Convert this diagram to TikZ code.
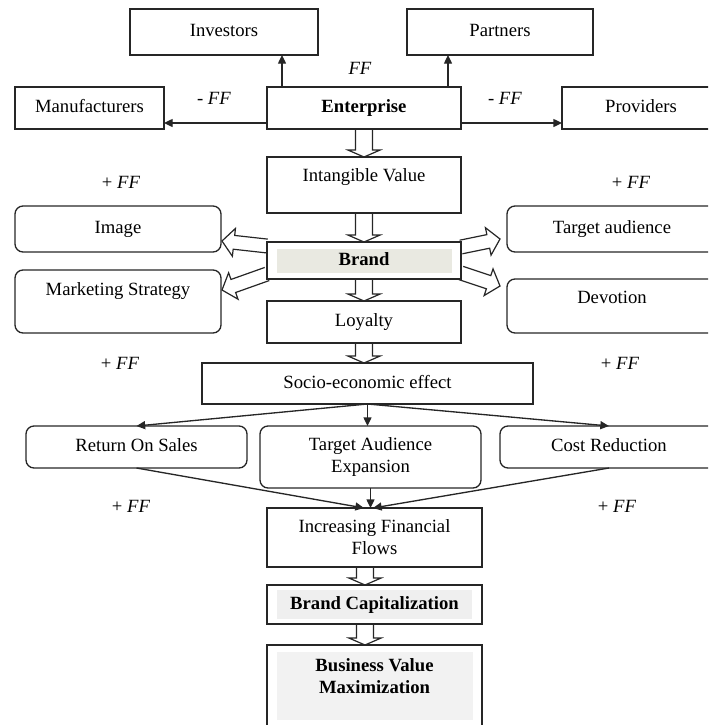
\documentclass[tikz,border=0pt]{standalone}
\usepackage{fontspec}
\setmainfont{Liberation Serif}
\usetikzlibrary{calc,arrows.meta,backgrounds}
\newcommand\pbox[7]{\node[#6, minimum width={(#4-#2)*0.75pt}, minimum height={(#5-#3)*0.75pt}] (#1) at ({(#2+#4)/2},{(#3+#5)/2}) {#7};}
\newcommand\hollow[5]{%
  \path (#1) coordinate (hA) (#2) coordinate (hB);
  \path ($(hB)!#5!(hA)$) coordinate (hH);
  \filldraw[hol] ($(hA)!#3!90:(hB)$) -- ($(hH)!#3!90:(hB)$) -- ($(hH)!#4!90:(hB)$) -- (hB)
    -- ($(hH)!#4!-90:(hB)$) -- ($(hH)!#3!-90:(hB)$) -- ($(hA)!#3!-90:(hB)$);}
\definecolor{brandshade}{RGB}{233,233,225}
\definecolor{capshade}{RGB}{239,239,239}
\definecolor{bvshade}{RGB}{242,242,242}
\begin{document}
\begin{tikzpicture}[x=0.75pt,y=-0.75pt,
  every node/.style={font=\fontsize{14}{16.5}\selectfont},
  bx/.style={draw=black!85, line width=1pt, inner sep=0pt, outer sep=0pt, align=center},
  sl/.style={text height=10pt, text depth=3pt},
  rbx/.style={bx, rounded corners=6pt},
  arr/.style={draw=black!85, line width=1pt, -{Triangle[length=6.5pt,width=6pt]}},
  hol/.style={draw=black!85, line width=0.9pt, fill=white, line join=miter},
  lbl/.style={inner sep=0pt}]
\clip (0,0) rectangle (708,725);
% boxes
\pbox{inv}{130}{9}{318}{55}{bx,sl}{Investors}
\pbox{par}{407}{9}{593}{55}{bx,sl}{Partners}
\pbox{manu}{15}{87}{164}{129}{bx,sl}{Manufacturers}
\pbox{ent}{267}{87}{461}{129}{bx,sl}{\textbf{Enterprise}}
\pbox{prov}{562}{87}{720}{129}{bx,sl}{Providers}
\pbox{intv}{267}{157}{461}{213}{bx,sl,text depth=15pt}{Intangible Value}
\pbox{img}{15}{206}{221}{252}{rbx,sl}{Image}
\pbox{tga}{507}{206}{717}{252}{rbx,sl}{Target audience}
\pbox{brand}{267}{242}{461}{279}{bx,sl}{\textbf{Brand}}
\pbox{mkt}{15}{270}{221}{333}{rbx,sl,text depth=18.8pt}{Marketing Strategy}
\pbox{dev}{507}{279}{717}{333}{rbx,sl,text depth=13.5pt}{Devotion}
\pbox{loy}{267}{301}{461}{343}{bx,sl}{Loyalty}
\pbox{soc}{202}{363}{533}{404}{bx,sl}{Socio-economic effect}
\pbox{ros}{26}{426}{247}{468}{rbx,sl}{Return On Sales}
\pbox{tae}{260}{426}{481}{488}{rbx}{Target Audience\\Expansion}
\pbox{cr}{500}{426}{718}{468}{rbx,sl}{Cost Reduction}
\pbox{ifl}{267}{508}{482}{567}{bx}{Increasing Financial\\Flows}
\pbox{bcap}{267}{585}{482}{624}{bx,sl}{\textbf{Brand Capitalization}}
\pbox{bvm}{267}{645}{482}{728}{bx}{\textbf{Business Value}\\\textbf{Maximization}\rule[-15pt]{0pt}{15pt}}
% labels
\node[lbl] (ff0) at (360,68) {\textit{FF}};
\node[lbl] (ffl) at (214,98) {- \textit{FF}};
\node[lbl] (ffr) at (505,98) {- \textit{FF}};
\node[lbl] (p1) at (121,182) {+ \textit{FF}};
\node[lbl] (p2) at (631,182) {+ \textit{FF}};
\node[lbl] (p3) at (120,363) {+ \textit{FF}};
\node[lbl] (p4) at (620,363) {+ \textit{FF}};
\node[lbl] (p5) at (131,506) {+ \textit{FF}};
\node[lbl] (p6) at (617,506) {+ \textit{FF}};
% background shades and hollow arrows
\begin{scope}[on background layer]
\fill[brandshade] ($(brand.north west)+(10,7)$) rectangle ($(brand.south east)+(-9,-6)$);
\fill[capshade] ($(bcap.north west)+(10,5)$) rectangle ($(bcap.south east)+(-10,-5)$);
\fill[bvshade] ($(bvm.north west)+(10,7)$) rectangle ($(bvm.south east)+(-9,-8)$);
\hollow{ent.south}{intv.north}{6.4pt}{12pt}{5.2pt}
\hollow{intv.south}{brand.north}{6.4pt}{12pt}{5.2pt}
\hollow{brand.south}{loy.north}{6.4pt}{12pt}{5.2pt}
\hollow{loy.south}{loy.south |- soc.north}{6.4pt}{12pt}{5.2pt}
\hollow{$(ifl.south west)+(98,0)$}{$(bcap.north west)+(98,0)$}{6.4pt}{12pt}{5.2pt}
\hollow{$(bcap.south west)+(98,0)$}{$(bvm.north west)+(98,0)$}{6.4pt}{12pt}{5.2pt}
\hollow{$(brand.north west)+(0,4)$}{$(img.north east)+(1,35)$}{5.2pt}{10.5pt}{9pt}
\hollow{$(brand.north west)+(0,32)$}{$(mkt.north east)+(1,20)$}{5.2pt}{10.5pt}{9pt}
\hollow{$(brand.north east)+(0,5)$}{$(tga.north west)+(-7,33)$}{5.2pt}{10.5pt}{9pt}
\hollow{$(brand.north east)+(0,31)$}{$(dev.north west)+(-7,7)$}{5.2pt}{10.5pt}{9pt}
\end{scope}
% thin arrows
\draw[arr] ($(ent.south west)+(0,-6)$) -- ($(manu.south east)+(0,-6)$);
\draw[arr] ($(ent.south east)+(0,-6)$) -- ($(prov.south west)+(0,-6)$);
\path ($(ent.north west)+(15,0)$) coordinate (u1);
\path ($(ent.north east)+(-13,0)$) coordinate (u2);
\draw[arr] (u1) -- (u1 |- inv.south);
\draw[arr] (u2) -- (u2 |- par.south);
\draw[arr] (soc.south) -- (ros.north);
\draw[arr] (soc.south) -- (soc.south |- tae.north);
\draw[arr] (soc.south) -- (cr.north);
\draw[arr] (ros.south) -- ($(ifl.north west)+(97,0)$);
\draw[arr] (tae.south) -- (tae.south |- ifl.north);
\draw[arr] (cr.south) -- ($(ifl.north west)+(106,0)$);
\end{tikzpicture}
\end{document}
